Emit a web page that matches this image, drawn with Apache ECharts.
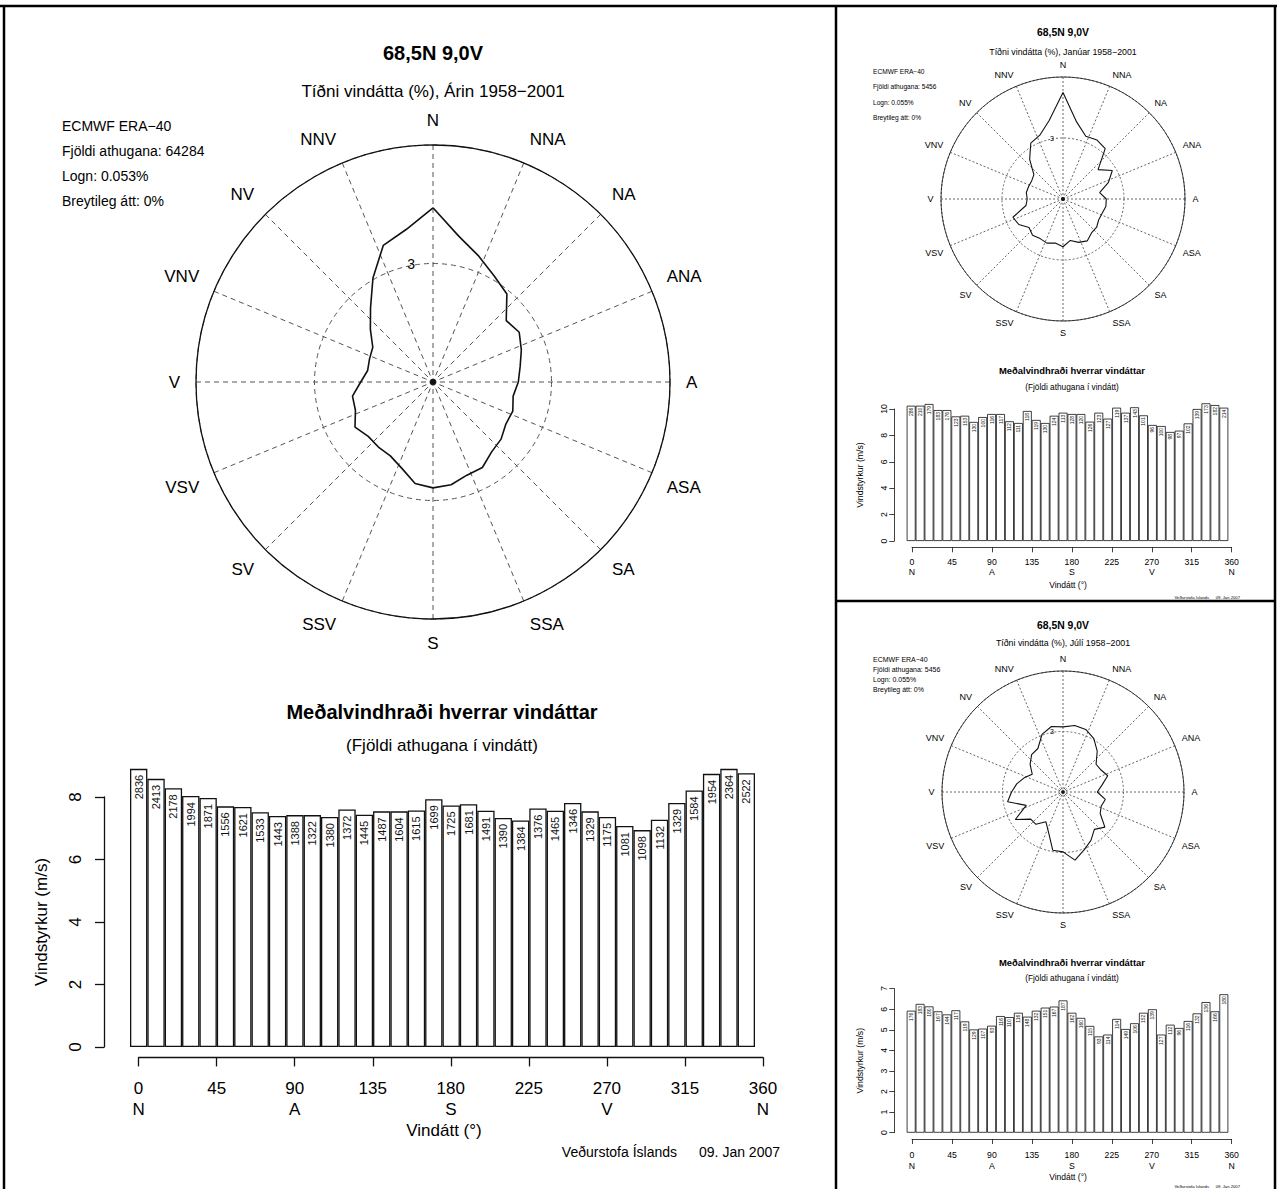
<!DOCTYPE html>
<html>
<head>
<meta charset="utf-8">
<script src="https://cdn.jsdelivr.net/npm/echarts@6/dist/echarts.min.js"></script>
<style>
  html, body { margin: 0; padding: 0; background: #ffffff; }
  #chart { width: 1277px; height: 1189px; }
</style>
</head>
<body>
<div id="chart"></div>
<script>
// ---------------- DATA ----------------
const directions = [0,10,20,30,40,50,60,70,80,90,100,110,120,130,140,150,160,170,180,190,200,210,220,230,240,250,260,270,280,290,300,310,320,330,340,350];
const compassNames = ['N','NNA','NA','ANA','A','ASA','SA','SSA','S','SSV','SV','VSV','V','VNV','NV','NNV'];
const xTickValues = [0,45,90,135,180,225,270,315,360];
const xTickLetters = ['N','','A','','S','','V','','N'];

// Annual (Árin 1958-2001)
const annualFreq = [4.41,3.75,3.39,3.10,2.91,2.42,2.52,2.38,2.24,2.16,2.06,2.15,2.13,2.25,2.31,2.50,2.51,2.64,2.68,2.61,2.32,2.16,2.15,2.14,2.28,2.09,2.07,1.83,1.68,1.71,1.76,2.07,2.46,3.04,3.68,3.92];
const annualSpeed = [8.90,8.58,8.28,8.03,7.97,7.70,7.68,7.51,7.39,7.42,7.42,7.36,7.60,7.43,7.54,7.54,7.57,7.93,7.73,7.77,7.56,7.33,7.25,7.63,7.56,7.81,7.54,7.36,7.07,6.94,7.27,7.81,8.21,8.74,8.90,8.76];
const annualCount = [2836,2413,2178,1994,1871,1556,1621,1533,1443,1388,1322,1380,1372,1445,1487,1604,1615,1699,1725,1681,1491,1390,1384,1376,1465,1346,1329,1175,1081,1098,1132,1329,1584,1954,2364,2522];

// January
const janFreq = [5.24,3.85,3.28,3.35,3.23,2.25,2.80,2.38,1.83,2.13,2.14,2.05,2.03,2.16,2.18,2.38,2.27,2.07,2.35,2.20,2.31,2.25,2.33,2.18,2.51,2.62,1.85,1.76,1.83,1.80,1.78,1.87,2.55,3.17,3.34,3.92];
const janSpeed = [10.25,10.25,10.38,9.92,9.92,9.44,9.49,9.02,9.39,9.62,9.62,9.07,8.94,9.85,9.17,8.94,9.49,9.72,9.62,9.62,9.04,9.72,9.27,10.10,9.72,10.13,9.52,8.79,8.71,8.26,8.36,8.91,10.00,10.43,10.30,10.10];
const janCount = [286,210,179,183,176,123,153,130,100,116,117,112,111,118,119,130,124,113,128,120,126,123,127,119,137,143,101,96,100,98,97,102,139,173,182,214];

// July
const julFreq = [3.23,3.35,3.30,3.06,2.64,2.14,2.18,2.36,1.96,1.70,2.13,2.02,2.13,2.71,2.42,2.77,3.06,3.43,2.97,2.93,2.11,1.70,2.09,2.09,2.73,1.94,2.79,2.55,2.33,2.05,1.76,2.13,2.42,2.49,3.04,3.30];
const julSpeed = [5.93,6.26,6.14,5.90,5.75,5.95,5.41,5.02,5.06,5.20,5.67,5.62,5.83,5.64,5.93,6.08,6.13,6.43,5.83,5.58,5.19,4.68,4.77,5.53,5.04,5.32,5.83,6.00,4.77,5.25,5.09,5.43,5.80,6.35,5.90,6.73];
const julCount = [176,183,180,167,144,117,119,129,107,93,116,110,116,148,132,151,167,187,162,160,115,93,114,114,149,106,152,139,127,112,96,116,132,136,166,180];

// ---------------- LAYOUT ----------------
const FONT = '"Liberation Sans", Arial, Helvetica, sans-serif';
const panels = [
  { // main
    freq: annualFreq, speed: annualSpeed, count: annualCount,
    sub: 'Tíðni vindátta (%), Árin 1958\u22122001', nobs: '64284', logn: '0.053%',
    cx: 433, R: 237, cy: 382, titleY: 53, titleSize: 20, subY: 91, subSize: 17,
    infoX: 62, infoY: [126,151,176,201], infoSize: 14,
    compassSize: 17, compassMargin: 16, dash: [5,4], gridColor: '#555', polyW: 1.6, dot: 7,
    rLabelSize: 14, rLabelMargin: 18,
    barGrid: {left: 130, top: 797, width: 625, height: 250}, yMax: 8, yInt: 2, yOffset: 26,
    axGrid: {left: 138.6, top: 1040, width: 624.4, height: 17.4},
    axisFont: 17, axisLH: 21.5, axisMargin: 20, tickLen: 9, yLabelMargin: 20, nameGap: 54,
    barTitleX: 442, barTitleY: 712, barTitleSize: 20, barSubY: 745, barSubSize: 17,
    xNameX: 444, xNameY: 1130, xNameSize: 17,
    credY: 1152, credSize: 14, cred1X: 677, cred2X: 780,
    barLabelSize: 11, barLabelDist: 6, barBorder: 1.3, axisW: 1.3
  },
  { // january
    freq: janFreq, speed: janSpeed, count: janCount,
    sub: 'Tíðni vindátta (%), Janúar 1958\u22122001', nobs: '5456', logn: '0.055%',
    cx: 1063, R: 122, cy: 199, titleY: 32, titleSize: 10.4, subY: 52, subSize: 8.8,
    infoX: 873, infoY: [71,86.7,102,117.3], infoSize: 6.6,
    compassSize: 9, compassMargin: 7.5, dash: [2,2], gridColor: '#666', polyW: 1.1, dot: 4,
    rLabelSize: 7, rLabelMargin: 9,
    barGrid: {left: 906.7, top: 409, width: 321.6, height: 132}, yMax: 10, yInt: 2, yOffset: 12.4,
    axGrid: {left: 912, top: 530, width: 319.7, height: 17.3},
    axisFont: 8.7, axisLH: 10.6, axisMargin: 9, tickLen: 5, yLabelMargin: 6, nameGap: 30,
    barTitleX: 1072, barTitleY: 370, barTitleSize: 9.4, barSubY: 386.7, barSubSize: 8.3,
    xNameX: 1068, xNameY: 585, xNameSize: 8.5,
    credY: 597, credSize: 4.2, cred1X: 1209, cred2X: 1240,
    barLabelSize: 5, barLabelDist: 2, barBorder: 0.8, axisW: 0.8
  },
  { // july
    freq: julFreq, speed: julSpeed, count: julCount,
    sub: 'Tíðni vindátta (%), Júlí 1958\u22122001', nobs: '5456', logn: '0.055%',
    cx: 1063, R: 121, cy: 792, titleY: 625, titleSize: 10.4, subY: 643.3, subSize: 8.8,
    infoX: 873, infoY: [659.3,669.3,679.3,689.3], infoSize: 7,
    compassSize: 9, compassMargin: 7.5, dash: [2,2], gridColor: '#666', polyW: 1.1, dot: 4,
    rLabelSize: 7, rLabelMargin: 9,
    barGrid: {left: 906.7, top: 988.7, width: 321.6, height: 144}, yMax: 7, yInt: 1, yOffset: 12.4,
    axGrid: {left: 912, top: 1120, width: 319.7, height: 19},
    axisFont: 8.7, axisLH: 10.7, axisMargin: 10.5, tickLen: 5, yLabelMargin: 6, nameGap: 30,
    barTitleX: 1072, barTitleY: 962.7, barTitleSize: 9.4, barSubY: 978.3, barSubSize: 8.3,
    xNameX: 1068, xNameY: 1177.3, xNameSize: 8.5,
    credY: 1186, credSize: 4.2, cred1X: 1209, cred2X: 1240,
    barLabelSize: 5, barLabelDist: 2, barBorder: 0.8, axisW: 0.8
  }
];

const polar = [], angleAxis = [], radiusAxis = [], grid = [], xAxis = [], yAxis = [], series = [], graphic = [];

function txt(text, x, y, size, opts) {
  opts = opts || {};
  graphic.push({
    type: 'text', x: x, y: y, silent: true,
    style: {
      text: text, fill: '#000', font: (opts.bold ? 'bold ' : '') + size + 'px ' + FONT,
      textAlign: opts.align || 'center', textVerticalAlign: 'middle'
    }
  });
}

panels.forEach((p, i) => {
  // ----- rose -----
  polar.push({ center: [p.cx, p.cy], radius: [0, p.R] });
  angleAxis.push({
    polarIndex: i, type: 'value', min: 0, max: 360, interval: 22.5,
    startAngle: 90, clockwise: true,
    axisLine: { show: true, lineStyle: { color: '#111', width: p.axisW } },
    axisTick: { show: false },
    axisLabel: {
      show: true, margin: p.compassMargin, fontSize: p.compassSize, color: '#000', fontFamily: FONT,
      align: 'center', verticalAlign: 'middle',
      formatter: v => compassNames[Math.round(v / 22.5)] || ''
    },
    splitLine: { show: true, lineStyle: { color: p.gridColor, width: 1, type: p.dash } }
  });
  radiusAxis.push({
    polarIndex: i, type: 'value', min: 0, max: 6, interval: 3,
    axisLine: { show: false }, axisTick: { show: false },
    axisLabel: {
      show: true, fontSize: p.rLabelSize, color: '#000', fontFamily: FONT, margin: p.rLabelMargin,
      formatter: v => (v === 3 ? '3' : '')
    },
    splitLine: { show: true, lineStyle: { color: p.gridColor, width: 1, type: p.dash } }
  });
  const roseData = directions.map((d, k) => [p.freq[k], d]);
  roseData.push([p.freq[0], 360]);
  series.push({
    type: 'line', coordinateSystem: 'polar', polarIndex: i, data: roseData,
    symbol: 'none', smooth: false, silent: true,
    lineStyle: { color: '#111', width: p.polyW }, z: 5
  });
  series.push({
    type: 'scatter', coordinateSystem: 'polar', polarIndex: i, data: [[0, 0]],
    symbol: 'circle', symbolSize: p.dot, itemStyle: { color: '#000' }, silent: true, z: 6
  });

  // ----- bars -----
  grid.push(Object.assign({ containLabel: false }, p.barGrid));
  xAxis.push({
    gridIndex: i, type: 'category', data: directions,
    axisLine: { show: false }, axisTick: { show: false }, axisLabel: { show: false }, splitLine: { show: false }
  });
  yAxis.push({
    gridIndex: i, type: 'value', min: 0, max: p.yMax, interval: p.yInt, offset: p.yOffset,
    axisLine: { show: true, lineStyle: { color: '#111', width: p.axisW } },
    axisTick: { show: true, inside: false, length: p.tickLen, lineStyle: { color: '#111', width: p.axisW } },
    axisLabel: { show: true, rotate: 90, margin: p.yLabelMargin, fontSize: p.axisFont, color: '#000', fontFamily: FONT },
    splitLine: { show: false },
    name: 'Vindstyrkur (m/s)', nameLocation: 'middle', nameGap: p.nameGap,
    nameTextStyle: { fontSize: p.axisFont, color: '#000', fontFamily: FONT }
  });
  series.push({
    type: 'bar', xAxisIndex: i, yAxisIndex: i, data: p.speed, clip: false,
    barCategoryGap: '0%', silent: true,
    itemStyle: { color: '#fff', borderColor: '#111', borderWidth: p.barBorder },
    label: {
      show: true, position: 'insideTop', rotate: 90, align: 'right', verticalAlign: 'middle',
      distance: p.barLabelDist, fontSize: p.barLabelSize, color: '#111', fontFamily: FONT,
      formatter: prm => String(p.count[prm.dataIndex])
    }
  });

  // texts
  txt('68,5N 9,0V', p.cx, p.titleY, p.titleSize, { bold: true });
  txt(p.sub, p.cx, p.subY, p.subSize);
  const info = ['ECMWF ERA\u221240', 'Fjöldi athugana: ' + p.nobs, 'Logn: ' + p.logn, 'Breytileg átt: 0%'];
  info.forEach((s, k) => txt(s, p.infoX, p.infoY[k], p.infoSize, { align: 'left' }));
  txt('Meðalvindhraði hverrar vindáttar', p.barTitleX, p.barTitleY, p.barTitleSize, { bold: true });
  txt('(Fjöldi athugana í vindátt)', p.barTitleX, p.barSubY, p.barSubSize);
  txt('Vindátt (°)', p.xNameX, p.xNameY, p.xNameSize);
  txt('Veðurstofa Íslands', p.cred1X, p.credY, p.credSize, { align: 'right' });
  txt('09. Jan 2007', p.cred2X, p.credY, p.credSize, { align: 'right' });
});

// x-axis grids (degree scale, detached below bars)
panels.forEach((p, i) => {
  const gi = 3 + i;
  grid.push(Object.assign({ containLabel: false }, p.axGrid));
  xAxis.push({
    gridIndex: gi, type: 'value', min: 0, max: 360, interval: 45,
    axisLine: { show: true, lineStyle: { color: '#111', width: p.axisW } },
    axisTick: { show: true, inside: false, length: p.tickLen, lineStyle: { color: '#111', width: p.axisW } },
    axisLabel: {
      show: true, showMinLabel: true, showMaxLabel: true, margin: p.axisMargin,
      fontSize: p.axisFont, lineHeight: p.axisLH, color: '#000', fontFamily: FONT,
      formatter: v => {
        const k = xTickValues.indexOf(v);
        return String(v) + (k >= 0 && xTickLetters[k] ? '\n' + xTickLetters[k] : '');
      }
    },
    splitLine: { show: false }
  });
  yAxis.push({ gridIndex: gi, type: 'value', min: 0, max: 1, show: false });
});

// frame lines
const frame = [
  [0, 6, 1277, 6], [4, 6, 4, 1189], [836, 6, 836, 1189], [1275, 6, 1275, 1189], [836, 601, 1275, 601]
];
frame.forEach(f => graphic.push({
  type: 'line', silent: true, shape: { x1: f[0], y1: f[1], x2: f[2], y2: f[3] },
  style: { stroke: '#000', lineWidth: 2.5 }
}));

const chart = echarts.init(document.getElementById('chart'), null, { renderer: 'svg' });
chart.setOption({
  animation: false,
  backgroundColor: '#fff',
  textStyle: { fontFamily: FONT },
  polar, angleAxis, radiusAxis, grid, xAxis, yAxis, series, graphic
});
</script>
</body>
</html>
